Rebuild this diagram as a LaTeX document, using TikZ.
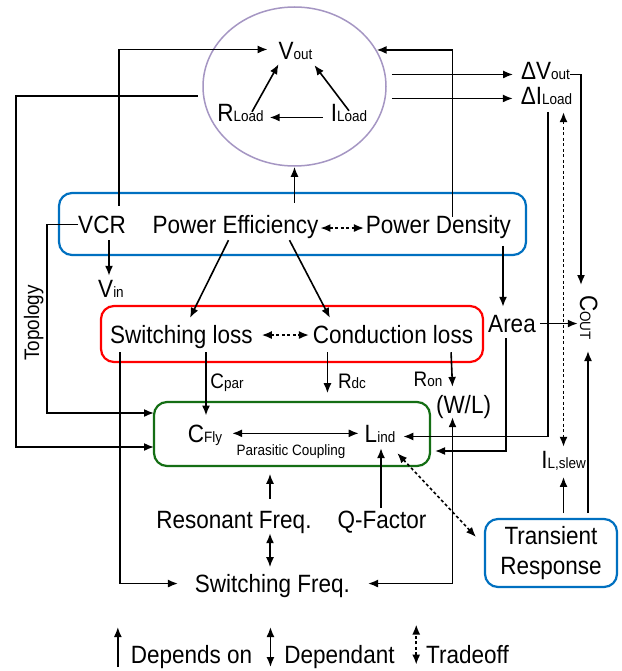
\documentclass[tikz,border=0pt]{standalone}
\usepackage{fontspec}
\setmainfont{Liberation Sans}[FakeStretch=0.9]
\usetikzlibrary{arrows.meta,calc,shapes.geometric}
\definecolor{bl}{RGB}{0,112,192}
\definecolor{rd}{RGB}{255,0,0}
\definecolor{gr}{RGB}{20,110,20}
\definecolor{lav}{RGB}{165,150,195}
\newcommand{\sm}[1]{{\fontsize{15}{15}\selectfont #1}}
\begin{document}
\begin{tikzpicture}[x=1pt,y=-1pt,
 txt/.style={inner sep=0pt,outer sep=0pt,anchor=base,font=\fontsize{25}{25}\selectfont},
 mtxt/.style={txt,font=\fontsize{21}{21}\selectfont},
 stxt/.style={txt,font=\fontsize{15}{15}\selectfont},
 box/.style={draw,line width=2.2pt,rounded corners=13pt,inner sep=0pt,outer sep=0pt},
 arr/.style={line width=1.6pt,-{Latex[length=10pt,width=8pt]}},
 darr/.style={line width=1.6pt,{Latex[length=10pt,width=8pt]}-{Latex[length=10pt,width=8pt]}},
 trade/.style={darr,dash pattern=on 3pt off 2.5pt}]
\useasboundingbox (0,0) rectangle (621,671);
\fill[white] (0,0) rectangle (621,671);

% ---------- nodes ----------
\node[ellipse,draw=lav,line width=1.5pt,minimum width=183pt,minimum height=159pt,inner sep=0pt] (ell) at (294.5,86.5) {};
\node[txt] (vout) at (295.5,60) {V\sm{out}};
\node[txt] (rload) at (240.5,122) {R\sm{Load}};
\node[txt] (iload) at (349,122) {I\sm{Load}};
\node[txt] (dvout) at (545.5,80) {ΔV\sm{out}};
\node[txt] (dil) at (546.5,105) {ΔI\sm{Load}};

\node[box,draw=bl,minimum width=467pt,minimum height=62pt] (bbox) at (292.5,224) {};
\node[txt] (vcr) at (102,233) {VCR};
\node[txt] (pe) at (235.5,233) {Power Efficiency};
\node[txt] (pd) at (438.5,233) {Power Density};
\node[txt] (vin) at (111,297) {V\sm{in}};
\node[mtxt,rotate=90] (topo) at (39,323) {Topology};

\node[box,draw=rd,minimum width=382pt,minimum height=56pt] (rbox) at (292,334) {};
\node[txt] (swl) at (181.5,343) {Switching loss};
\node[txt] (cdl) at (393,343) {Conduction loss};
\node[txt] (area) at (512,332) {Area};
\node[txt,rotate=-90,anchor=base west] (cout) at (580,295) {C\sm{OUT}};

\node[mtxt] (cpar) at (227,388) {C\sm{par}};
\node[mtxt] (rdc) at (352,388) {R\sm{dc}};
\node[mtxt] (ron) at (428,386) {R\sm{on}};
\node[txt] (wl) at (463.5,413) {(W/L)};

\node[box,draw=gr,minimum width=276pt,minimum height=64pt] (gbox) at (292,434) {};
\node[txt] (cfly) at (205,442) {C\sm{Fly}};
\node[txt] (lind) at (380,442) {L\sm{ind}};
\node[stxt] (pc) at (291,455) {Parasitic Coupling};
\node[txt] (ils) at (563.5,468) {I\sm{L,slew}};

\node[txt] (res) at (234,528) {Resonant Freq.};
\node[txt] (qf) at (382,528) {Q-Factor};
\node[txt] (swf) at (272.5,592) {Switching Freq.};
\node[box,draw=bl,minimum width=132pt,minimum height=68pt,align=center,font=\fontsize{25}{30}\selectfont] (trans) at (551,553) {Transient\\Response};

\node[txt] (ldep) at (191.5,663) {Depends on};
\node[txt] (ldpd) at (339.5,663) {Dependant};
\node[txt] (ltr) at (467.5,663) {Tradeoff};

% ---------- coordinates ----------
\coordinate (lft) at (16,447);
\coordinate (tpc) at (47,413);
\coordinate (ctop) at (581,285);
\coordinate (cbot) at (588,351);
\coordinate (dl) at (548,112);

% ---------- connectors ----------
% inside ellipse
\draw[arr] ($(rload.north)+(11.5,7)$) -- ($(vout.south west)+(0,4)$);
\draw[arr] ($(iload.north)+(0,6)$) -- ($(vout.south east)+(2,5)$);
\draw[arr] ($(iload.west)+(-8,4)$) -- ($(rload.east)+(6,4)$);

% to ellipse
\draw[arr] ($(vcr.north)+(17,-10)$) |- ($(vout.west)+(-11,-2)$);
\draw[arr] ($(pd.north)+(14,2)$) |- (ell.24);
\draw[arr] ($(ell.south |- pe.north)+(0,-12)$) -- (ell.south);

% left loops
\draw[arr] ($(ell.186)+(-5,0)$) -| (lft) -- (gbox.west |- lft);
\draw[arr] (vcr.west) -| (tpc) -- (gbox.west |- tpc);
\draw[arr] ($(vcr.south)+(7,7)$) -- ($(vcr.south |- vin.north)+(7,-4)$);

% ellipse to deltas
\draw[arr] ($(ell.east |- dvout.west)+(5,3)$) -- ($(dvout.west)+(-8,3)$);
\draw[arr] ($(ell.east |- dil.west)+(5,2)$) -- ($(dil.west)+(-8,2)$);

% C_OUT
\draw[arr] ($(dvout.east)+(0,3)$) -| (ctop);
\draw[arr] ($(area.east)+(4,0)$) -- ($(area.east -| cout.south)+(-2,0)$);
\draw[arr] ($(trans.north -| cbot)+(0,-6)$) -- (cbot);

% Area
\draw[arr] ($(area.north)+(-9,-69)$) -- ($(area.north)+(-9,-8)$);
\draw[arr] ($(area.south)+(-6,6)$) |- ($(gbox.east)+(5,17)$);

% right side
\draw[arr] ($(trans.north -| ils.south)+(0,-6)$) -- ($(ils.south)+(0,7)$);
\draw[arr] (dl) |- ($(lind.east)+(8,3)$);
\draw[trade] ($(dil.south -| ils.north)+(0,7)$) -- ($(ils.north)+(0,-4)$);

% efficiency to losses
\draw[arr] ($(pe.south)+(-7,2)$) -- ($(swl.north)+(8.5,-7)$);
\draw[arr] ($(pe.south)+(54,2)$) -- ($(cdl.north west)+(17,-7)$);
\draw[trade] ($(pe.east)+(2,1.5)$) -- ($(pe.east -| pd.west)+(-2,1.5)$);
\draw[trade] ($(swl.east)+(9,-1.5)$) -- ($(swl.east -| cdl.west)+(-4,-1.5)$);

% losses downward
\draw[arr] ($(swl.south west)+(10,4)$) |- ($(swf.west)+(-17,-2)$);
\draw[arr] ($(cfly.north |- swl.south)+(1,4)$) -- ($(cfly.north)+(1,-9)$);
\draw[arr] ($(cdl.south west)+(14.5,9)$) -- ++(0,41);
\draw[arr] ($(cdl.south east)+(-22,9)$) -- ($(wl.north)+(-11,-8)$);
\draw[darr] ($(wl.south)+(-11,-1)$) |- ($(swf.east)+(18,-2)$);

% green box internals and below
\draw[darr] ($(cfly.east)+(10,-1.5)$) -- ($(cfly.east -| lind.west)+(-6,-1.5)$);
\draw[arr] ($(res.north)+(36,-12)$) -- ++(0,-25);
\draw[darr] ($(res.south)+(36,0)$) -- ++(0,34);
\draw[arr] ($(qf.north)+(-1,-3)$) -- ($(qf.north |- lind.south)+(-1,6)$);
\draw[trade] ($(lind.south east)+(2,11)$) -- ($(trans.west)+(-9,-16)$);

% legend
\draw[arr] ($(ldep.west)+(-13,10.5)$) -- ++(0,-40);
\draw[darr] ($(ldpd.west)+(-14,10.5)$) -- ++(0,-40);
\draw[trade] ($(ltr.west)+(-10,10.5)$) -- ++(0,-40);
\end{tikzpicture}
\end{document}
